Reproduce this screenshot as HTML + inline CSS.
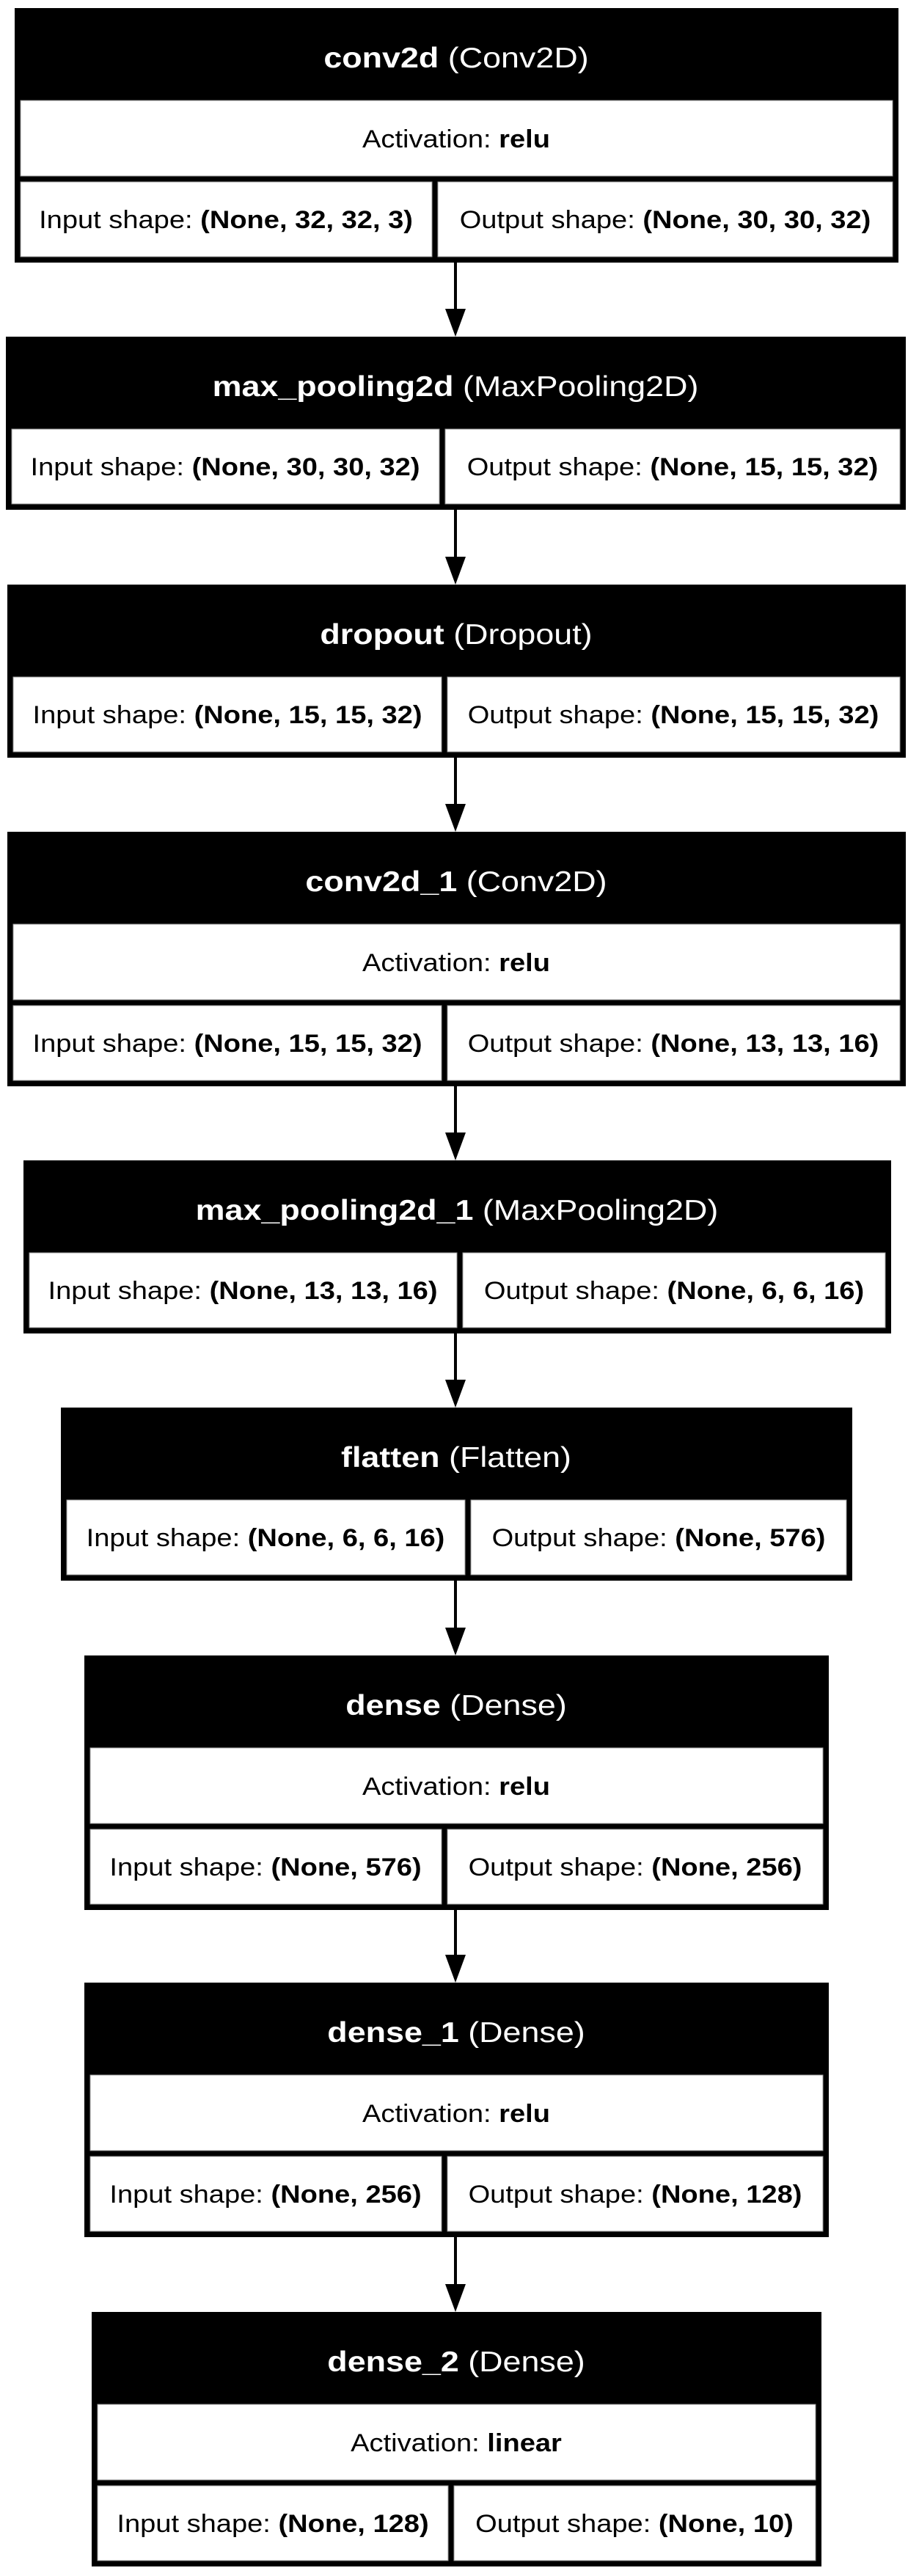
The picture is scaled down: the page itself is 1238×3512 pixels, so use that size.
<!DOCTYPE html>
<html><head><meta charset="utf-8"><style>
html,body{margin:0;padding:0;background:#fff;width:1238px;height:3512px;overflow:hidden}
svg{display:block}
text{font-family:"Liberation Sans",Arial,sans-serif;text-anchor:middle}
.h{font-size:39px;fill:#fff}
.t{font-size:34px;fill:#000}
.c{fill:#fff;stroke:#999;stroke-width:1}
</style></head><body>
<svg width="1238" height="3512" viewBox="0 0 1238 3512" xmlns="http://www.w3.org/2000/svg">
<rect width="1238" height="3512" fill="#fff"/>

<!-- 1 conv2d -->
<rect x="20" y="11" width="1205" height="347" fill="#000"/>
<text class="h" transform="translate(622,92) scale(1.15,1)"><tspan font-weight="bold">conv2d</tspan> (Conv2D)</text>
<rect class="c" x="28" y="137" width="1189" height="103"/>
<text class="t" transform="translate(622,201) scale(1.12,1)">Activation: <tspan font-weight="bold">relu</tspan></text>
<rect class="c" x="28" y="248" width="561" height="102"/>
<rect class="c" x="597" y="248" width="620" height="102"/>
<text class="t" transform="translate(308,311) scale(1.12,1)">Input shape: <tspan font-weight="bold">(None, 32, 32, 3)</tspan></text>
<text class="t" transform="translate(907,311) scale(1.12,1)">Output shape: <tspan font-weight="bold">(None, 30, 30, 32)</tspan></text>
<line x1="621" y1="358" x2="621" y2="423" stroke="#000" stroke-width="4"/>
<polygon points="607,421 635,421 621,459" fill="#000"/>

<!-- 2 max_pooling2d -->
<rect x="8" y="459" width="1227" height="236" fill="#000"/>
<text class="h" transform="translate(621,540) scale(1.15,1)"><tspan font-weight="bold">max_pooling2d</tspan> (MaxPooling2D)</text>
<rect class="c" x="16" y="585" width="583" height="102"/>
<rect class="c" x="607" y="585" width="620" height="102"/>
<text class="t" transform="translate(307,648) scale(1.12,1)">Input shape: <tspan font-weight="bold">(None, 30, 30, 32)</tspan></text>
<text class="t" transform="translate(917,648) scale(1.12,1)">Output shape: <tspan font-weight="bold">(None, 15, 15, 32)</tspan></text>
<line x1="621" y1="695" x2="621" y2="761" stroke="#000" stroke-width="4"/>
<polygon points="607,759 635,759 621,797" fill="#000"/>

<!-- 3 dropout -->
<rect x="10" y="797" width="1225" height="236" fill="#000"/>
<text class="h" transform="translate(622,878) scale(1.15,1)"><tspan font-weight="bold">dropout</tspan> (Dropout)</text>
<rect class="c" x="18" y="923" width="584" height="102"/>
<rect class="c" x="610" y="923" width="617" height="102"/>
<text class="t" transform="translate(310,986) scale(1.12,1)">Input shape: <tspan font-weight="bold">(None, 15, 15, 32)</tspan></text>
<text class="t" transform="translate(918,986) scale(1.12,1)">Output shape: <tspan font-weight="bold">(None, 15, 15, 32)</tspan></text>
<line x1="621" y1="1033" x2="621" y2="1098" stroke="#000" stroke-width="4"/>
<polygon points="607,1096 635,1096 621,1134" fill="#000"/>

<!-- 4 conv2d_1 -->
<rect x="10" y="1134" width="1225" height="347" fill="#000"/>
<text class="h" transform="translate(622,1215) scale(1.15,1)"><tspan font-weight="bold">conv2d_1</tspan> (Conv2D)</text>
<rect class="c" x="18" y="1260" width="1209" height="103"/>
<text class="t" transform="translate(622,1324) scale(1.12,1)">Activation: <tspan font-weight="bold">relu</tspan></text>
<rect class="c" x="18" y="1371" width="584" height="102"/>
<rect class="c" x="610" y="1371" width="617" height="102"/>
<text class="t" transform="translate(310,1434) scale(1.12,1)">Input shape: <tspan font-weight="bold">(None, 15, 15, 32)</tspan></text>
<text class="t" transform="translate(918,1434) scale(1.12,1)">Output shape: <tspan font-weight="bold">(None, 13, 13, 16)</tspan></text>
<line x1="621" y1="1481" x2="621" y2="1546" stroke="#000" stroke-width="4"/>
<polygon points="607,1544 635,1544 621,1582" fill="#000"/>

<!-- 5 max_pooling2d_1 -->
<rect x="32" y="1582" width="1183" height="236" fill="#000"/>
<text class="h" transform="translate(623,1663) scale(1.15,1)"><tspan font-weight="bold">max_pooling2d_1</tspan> (MaxPooling2D)</text>
<rect class="c" x="40" y="1708" width="583" height="102"/>
<rect class="c" x="631" y="1708" width="576" height="102"/>
<text class="t" transform="translate(331,1771) scale(1.12,1)">Input shape: <tspan font-weight="bold">(None, 13, 13, 16)</tspan></text>
<text class="t" transform="translate(919,1771) scale(1.12,1)">Output shape: <tspan font-weight="bold">(None, 6, 6, 16)</tspan></text>
<line x1="621" y1="1818" x2="621" y2="1883" stroke="#000" stroke-width="4"/>
<polygon points="607,1881 635,1881 621,1919" fill="#000"/>

<!-- 6 flatten -->
<rect x="83" y="1919" width="1079" height="236" fill="#000"/>
<text class="h" transform="translate(622,2000) scale(1.15,1)"><tspan font-weight="bold">flatten</tspan> (Flatten)</text>
<rect class="c" x="91" y="2045" width="543" height="102"/>
<rect class="c" x="642" y="2045" width="512" height="102"/>
<text class="t" transform="translate(362,2108) scale(1.12,1)">Input shape: <tspan font-weight="bold">(None, 6, 6, 16)</tspan></text>
<text class="t" transform="translate(898,2108) scale(1.12,1)">Output shape: <tspan font-weight="bold">(None, 576)</tspan></text>
<line x1="621" y1="2155" x2="621" y2="2221" stroke="#000" stroke-width="4"/>
<polygon points="607,2219 635,2219 621,2257" fill="#000"/>

<!-- 7 dense -->
<rect x="115" y="2257" width="1015" height="347" fill="#000"/>
<text class="h" transform="translate(622,2338) scale(1.15,1)"><tspan font-weight="bold">dense</tspan> (Dense)</text>
<rect class="c" x="123" y="2383" width="999" height="103"/>
<text class="t" transform="translate(622,2447) scale(1.12,1)">Activation: <tspan font-weight="bold">relu</tspan></text>
<rect class="c" x="123" y="2494" width="479" height="102"/>
<rect class="c" x="610" y="2494" width="512" height="102"/>
<text class="t" transform="translate(362,2557) scale(1.12,1)">Input shape: <tspan font-weight="bold">(None, 576)</tspan></text>
<text class="t" transform="translate(866,2557) scale(1.12,1)">Output shape: <tspan font-weight="bold">(None, 256)</tspan></text>
<line x1="621" y1="2604" x2="621" y2="2667" stroke="#000" stroke-width="4"/>
<polygon points="607,2665 635,2665 621,2703" fill="#000"/>

<!-- 8 dense_1 -->
<rect x="115" y="2703" width="1015" height="347" fill="#000"/>
<text class="h" transform="translate(622,2784) scale(1.15,1)"><tspan font-weight="bold">dense_1</tspan> (Dense)</text>
<rect class="c" x="123" y="2829" width="999" height="103"/>
<text class="t" transform="translate(622,2893) scale(1.12,1)">Activation: <tspan font-weight="bold">relu</tspan></text>
<rect class="c" x="123" y="2940" width="479" height="102"/>
<rect class="c" x="610" y="2940" width="512" height="102"/>
<text class="t" transform="translate(362,3003) scale(1.12,1)">Input shape: <tspan font-weight="bold">(None, 256)</tspan></text>
<text class="t" transform="translate(866,3003) scale(1.12,1)">Output shape: <tspan font-weight="bold">(None, 128)</tspan></text>
<line x1="621" y1="3050" x2="621" y2="3116" stroke="#000" stroke-width="4"/>
<polygon points="607,3114 635,3114 621,3152" fill="#000"/>

<!-- 9 dense_2 -->
<rect x="125" y="3152" width="995" height="347" fill="#000"/>
<text class="h" transform="translate(622,3233) scale(1.15,1)"><tspan font-weight="bold">dense_2</tspan> (Dense)</text>
<rect class="c" x="133" y="3278" width="979" height="103"/>
<text class="t" transform="translate(622,3342) scale(1.12,1)">Activation: <tspan font-weight="bold">linear</tspan></text>
<rect class="c" x="133" y="3389" width="478" height="102"/>
<rect class="c" x="619" y="3389" width="493" height="102"/>
<text class="t" transform="translate(372,3452) scale(1.12,1)">Input shape: <tspan font-weight="bold">(None, 128)</tspan></text>
<text class="t" transform="translate(865,3452) scale(1.12,1)">Output shape: <tspan font-weight="bold">(None, 10)</tspan></text>
</svg>
</body></html>
